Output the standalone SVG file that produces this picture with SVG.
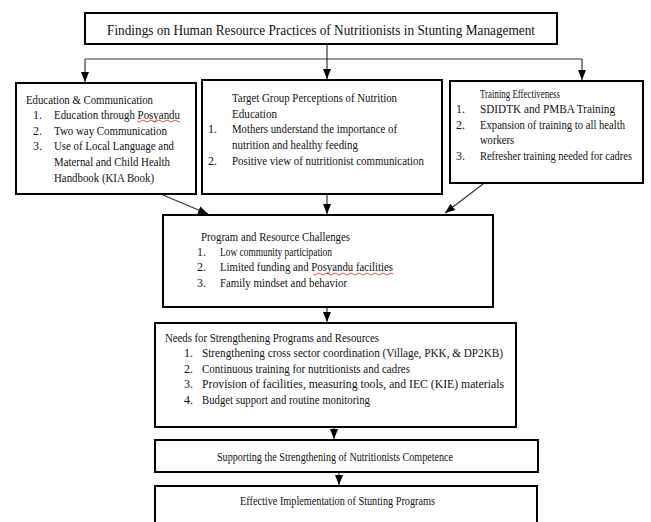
<svg xmlns="http://www.w3.org/2000/svg" width="651" height="522" viewBox="0 0 651 522">
<style>
.box{fill:#fff;stroke:#000;stroke-width:2}
.c{fill:none;stroke:#333;stroke-width:1.2}
text{font-family:"Liberation Serif","Times New Roman",serif;font-size:12px;fill:#111}
.t{font-size:15px}
.sq{fill:none;stroke:#e02020;stroke-width:0.8}
</style>
<defs>
<marker id="ah" markerUnits="userSpaceOnUse" markerWidth="10" markerHeight="10" viewBox="0 0 10 10" refX="10" refY="5" orient="auto">
<path d="M0,1 L10,5 L0,9 Z" fill="#000"/>
</marker>
</defs>
<rect width="651" height="522" fill="#fff"/>
<g id="connectors">
<path class="c" d="M327,44 V59 M85,59 H582"/>
<line class="c" x1="85" y1="59" x2="85" y2="82" marker-end="url(#ah)"/>
<line class="c" x1="327" y1="59" x2="327" y2="79" marker-end="url(#ah)"/>
<line class="c" x1="582" y1="59" x2="582" y2="80" marker-end="url(#ah)"/>
<line class="c" x1="163" y1="195" x2="208" y2="214" marker-end="url(#ah)"/>
<line class="c" x1="327" y1="194" x2="327" y2="214" marker-end="url(#ah)"/>
<line class="c" x1="483" y1="184" x2="445" y2="213" marker-end="url(#ah)"/>
<line class="c" x1="327" y1="307" x2="327" y2="322" marker-end="url(#ah)"/>
<line class="c" x1="334" y1="427" x2="334" y2="439" marker-end="url(#ah)"/>
<line class="c" x1="339" y1="472" x2="339" y2="485" marker-end="url(#ah)"/>
</g>
<g id="title">
<rect class="box" x="85" y="13" width="472" height="31"/>
<text class="t" x="107" y="35" textLength="428" lengthAdjust="spacingAndGlyphs">Findings on Human Resource Practices of Nutritionists in Stunting Management</text>
</g>
<g id="education">
<rect class="box" x="16" y="83" width="180" height="111"/>
<text x="26" y="104" textLength="127" lengthAdjust="spacingAndGlyphs">Education &amp; Communication</text>
<text x="33" y="119">1.</text><text x="54" y="119" textLength="126" lengthAdjust="spacingAndGlyphs">Education through Posyandu</text>
<path class="sq" d="M137,121 q2,2 4,0 t4,0 t4,0 t4,0 t4,0 t4,0 t4,0 t4,0 t4,0 t4,0 t3,0"/>
<text x="33" y="135">2.</text><text x="54" y="135" textLength="113" lengthAdjust="spacingAndGlyphs">Two way Communication</text>
<text x="33" y="150">3.</text><text x="54" y="150" textLength="120" lengthAdjust="spacingAndGlyphs">Use of Local Language and</text>
<text x="54" y="166" textLength="116" lengthAdjust="spacingAndGlyphs">Maternal and Child Health</text>
<text x="54" y="182" textLength="100" lengthAdjust="spacingAndGlyphs">Handbook (KIA Book)</text>
</g>
<g id="perceptions">
<rect class="box" x="202" y="80" width="240" height="114"/>
<text x="232" y="102" textLength="165" lengthAdjust="spacingAndGlyphs">Target Group Perceptions of Nutrition</text>
<text x="232" y="118" textLength="45" lengthAdjust="spacingAndGlyphs">Education</text>
<text x="208" y="133">1.</text><text x="232" y="133" textLength="165" lengthAdjust="spacingAndGlyphs">Mothers understand the importance of</text>
<text x="232" y="149" textLength="126" lengthAdjust="spacingAndGlyphs">nutrition and healthy feeding</text>
<text x="208" y="165">2.</text><text x="232" y="165" textLength="192" lengthAdjust="spacingAndGlyphs">Positive view of nutritionist  communication</text>
</g>
<g id="training">
<rect class="box" x="450" y="81" width="193" height="102"/>
<text x="480" y="98" textLength="80" lengthAdjust="spacingAndGlyphs">Training Effectiveness</text>
<text x="456" y="113">1.</text><text x="480" y="113" textLength="135" lengthAdjust="spacingAndGlyphs">SDIDTK and PMBA Training</text>
<text x="456" y="129">2.</text><text x="480" y="129" textLength="145" lengthAdjust="spacingAndGlyphs">Expansion of training to all health</text>
<text x="480" y="144" textLength="34" lengthAdjust="spacingAndGlyphs">workers</text>
<text x="456" y="160">3.</text><text x="480" y="160" textLength="152" lengthAdjust="spacingAndGlyphs">Refresher training needed for cadres</text>
</g>
<g id="challenges">
<rect class="box" x="163" y="215" width="330" height="92"/>
<text x="201" y="241" textLength="149" lengthAdjust="spacingAndGlyphs">Program and Resource Challenges</text>
<text x="197" y="256">1.</text><text x="220" y="256" textLength="112" lengthAdjust="spacingAndGlyphs">Low community participation</text>
<text x="197" y="271">2.</text><text x="220" y="271" textLength="173" lengthAdjust="spacingAndGlyphs">Limited funding and Posyandu facilities</text>
<path class="sq" d="M313,274 q2,2 4,0 t4,0 t4,0 t4,0 t4,0 t4,0 t4,0 t4,0 t4,0 t4,0 t4,0 t4,0 t4,0 t4,0 t4,0 t4,0 t4,0 t4,0 t4,0 t4,0"/>
<text x="197" y="287">3.</text><text x="220" y="287" textLength="127" lengthAdjust="spacingAndGlyphs">Family mindset and behavior</text>
</g>
<g id="needs">
<rect class="box" x="155" y="323" width="361" height="104"/>
<text x="165" y="342" textLength="214" lengthAdjust="spacingAndGlyphs">Needs for Strengthening Programs and Resources</text>
<text x="184" y="357">1.</text><text x="202" y="357" textLength="301" lengthAdjust="spacingAndGlyphs">Strengthening cross sector coordination (Village, PKK, &amp; DP2KB)</text>
<text x="184" y="373">2.</text><text x="202" y="373" textLength="208" lengthAdjust="spacingAndGlyphs">Continuous training for nutritionists and cadres</text>
<text x="184" y="388">3.</text><text x="202" y="388" textLength="302" lengthAdjust="spacingAndGlyphs">Provision of facilities, measuring tools, and IEC (KIE) materials</text>
<text x="184" y="404">4.</text><text x="202" y="404" textLength="168" lengthAdjust="spacingAndGlyphs">Budget support and routine monitoring</text>
</g>
<g id="supporting">
<rect class="box" x="155" y="440" width="383" height="32"/>
<text x="217" y="461" textLength="236" lengthAdjust="spacingAndGlyphs">Supporting the Strengthening of Nutritionists Competence</text>
</g>
<g id="effective">
<rect class="box" x="155" y="486" width="382" height="45"/>
<text x="240" y="505" textLength="195" lengthAdjust="spacingAndGlyphs">Effective Implementation of Stunting Programs</text>
</g>
</svg>
